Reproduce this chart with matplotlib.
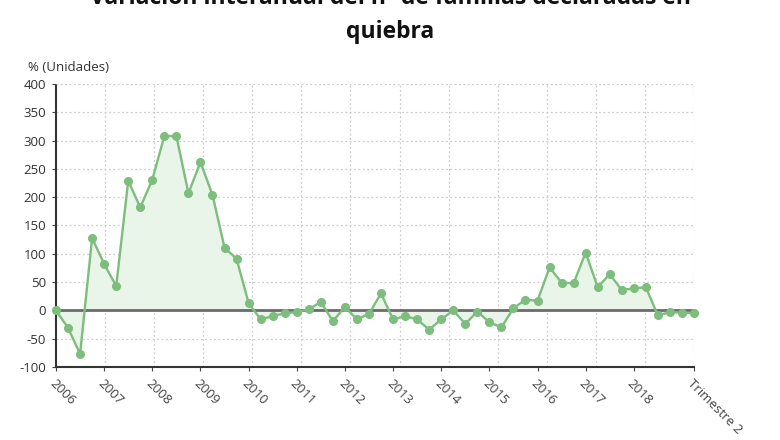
import numpy as np
import matplotlib
matplotlib.use("Agg")
import matplotlib.pyplot as plt

plt.rcParams["font.family"] = ["Open Sans", "DejaVu Sans"]

TITLE = "Variación interanual del nº de familias declaradas en\nquiebra"
Y_LABEL = "% (Unidades)"

# variación interanual trimestral, 2006 T1 .. 2019 T2
values = [
    0, -31, -77, 128, 82, 43, 229, 182, 231, 308,
    308, 207, 262, 204, 111, 91, 13, -16, -10, -5,
    -3, 2, 15, -19, 6, -16, -6, 30, -16, -10,
    -16, -34, -16, 0, -24, -2, -21, -30, 4, 19,
    17, 76, 49, 48, 102, 41, 64, 36, 39, 41,
    -9, -3, -4, -5,
]
years = [str(y) for y in range(2006, 2019)]
last_label = "Trimestre 2"
y_ticks = list(range(-100, 401, 50))

LINE = "#7dbd7d"
FILL = "#e9f5e9"

x = np.arange(len(values))
v = np.array(values, dtype=float)

fig = plt.figure(figsize=(7.8, 4.4), dpi=100)
ax = fig.add_axes([56 / 780, 1 - 367 / 440, (694 - 56) / 780, (367 - 84) / 440])

ax.fill_between(x, v, 0, color=FILL, zorder=1)
ax.axhline(0, color="#6b6b6b", lw=2, zorder=2)
ax.plot(x, v, color=LINE, lw=1.7, marker="o", ms=5.5,
        mfc=LINE, mec=LINE, zorder=3, clip_on=False)

ax.set_xlim(0, len(values) - 1)
ax.set_ylim(-100, 400)

# vertical grid: evenly spaced across the plot
for gx in np.linspace(0, len(values) - 1, 14)[1:]:
    ax.axvline(gx, color="#cccccc", lw=0.9, ls=(0, (1.5, 2)), zorder=0)
for gy in y_ticks[1:]:
    ax.axhline(gy, color="#cccccc", lw=0.9, ls=(0, (1.5, 2)), zorder=0)

ax.set_yticks(y_ticks)
ax.set_yticklabels([str(t) for t in y_ticks], fontsize=9.5, color="#333333")

tick_pos = [i * 4 for i in range(len(years))] + [len(values) - 1]
ax.set_xticks(tick_pos)
ax.set_xticklabels(years + [last_label], rotation=-45, ha="left",
                   va="top", rotation_mode="anchor", fontsize=9.5,
                   color="#444444")
ax.tick_params(axis="both", length=3, color="#444444", pad=4)

for side in ("top", "right"):
    ax.spines[side].set_visible(False)
for side in ("left", "bottom"):
    ax.spines[side].set_color("#333333")
    ax.spines[side].set_linestyle((0, (1, 1)))
    ax.spines[side].set_linewidth(1.5)

fig.text(0.5, 1 - 15 / 440, TITLE, ha="center", va="center",
         fontsize=16.5, fontweight="bold", color="#111111",
         linespacing=1.55)
fig.text(28 / 780, 1 - 67 / 440, Y_LABEL, ha="left", va="center",
         fontsize=9.5, color="#333333")

fig.savefig("out.png", dpi=100)
